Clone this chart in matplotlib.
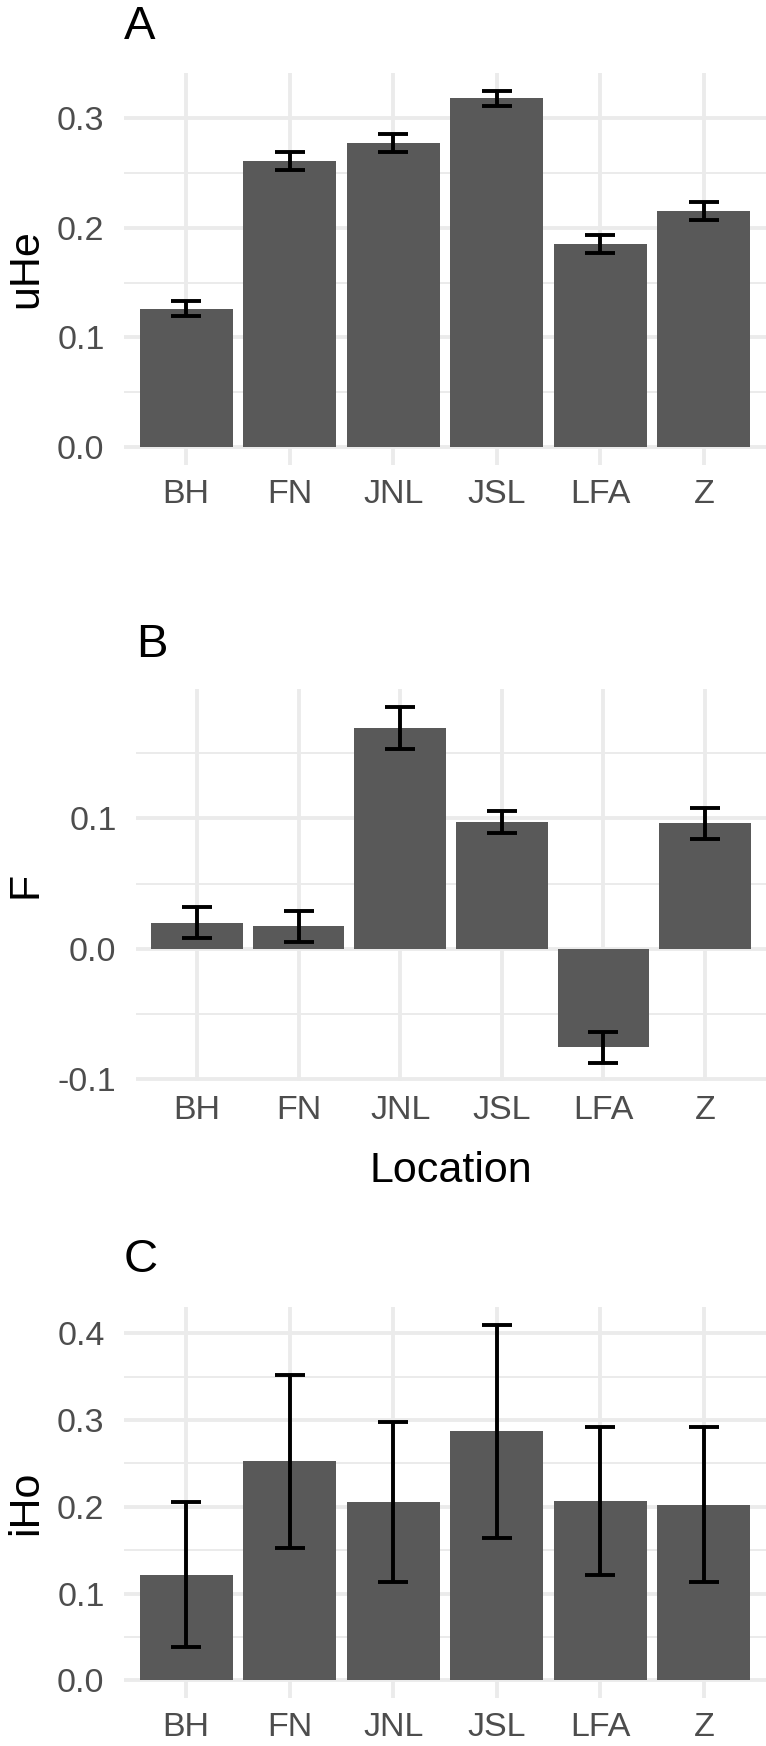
import numpy as np
import matplotlib
matplotlib.use("Agg")
import matplotlib.pyplot as plt
from matplotlib.ticker import MultipleLocator

plt.rcParams['font.family'] = ['Liberation Sans', 'DejaVu Sans']

# %% Data
locations = ['BH', 'FN', 'JNL', 'JSL', 'LFA', 'Z']

uHe = [0.126, 0.261, 0.277, 0.318, 0.185, 0.215]
uHe_se = [0.0068, 0.0083, 0.0083, 0.0067, 0.0080, 0.0083]

F = [0.020, 0.0172, 0.1693, 0.0972, -0.0755, 0.0962]
F_se = [0.0118, 0.0121, 0.0162, 0.0082, 0.0121, 0.0120]

iHo = [0.1219, 0.2526, 0.2058, 0.2870, 0.2070, 0.2023]
iHo_se = [0.084, 0.100, 0.092, 0.123, 0.0855, 0.0895]

W, H = 766, 1746
BAR = '#595959'
GRID = '#EBEBEB'
TICK = '#4D4D4D'

fig = plt.figure(figsize=(W / 100, H / 100), dpi=100)


def panel(left, top, bottom, vals, errs, letter, ylabel, base):
    ax = fig.add_axes([left / W, 1 - bottom / H, (W - left) / W, (bottom - top) / H])
    x = np.arange(len(locations))
    vals = np.array(vals)
    errs = np.array(errs)
    ax.bar(x, vals, width=0.9, color=BAR, zorder=2)
    ax.errorbar(x, vals, yerr=errs, fmt='none', ecolor='black',
                elinewidth=2.8, capsize=11, capthick=2.8, zorder=3)

    # ggplot style limits: 5% expansion, 0.6 for discrete axis
    lo = min(0, (vals - errs).min())
    hi = max(0, (vals + errs).max())
    pad = (hi - lo) * 0.05
    ax.set_ylim(lo - pad, hi + pad)
    ax.set_xlim(-0.6, len(locations) - 0.4)

    ax.set_xticks(x)
    ax.set_xticklabels(locations)
    ax.yaxis.set_major_locator(MultipleLocator(0.1))
    ax.yaxis.set_minor_locator(MultipleLocator(0.05))
    ax.yaxis.set_major_formatter(matplotlib.ticker.FormatStrFormatter('%.1f'))

    ax.grid(which='major', color=GRID, lw=2.8, zorder=0)
    ax.grid(which='minor', axis='y', color=GRID, lw=1.4, zorder=0)
    ax.set_axisbelow(True)
    for s in ax.spines.values():
        s.set_visible(False)
    ax.tick_params(axis='both', which='both', length=0, labelsize=24.5, labelcolor=TICK)
    ax.tick_params(axis='x', pad=10)
    ax.tick_params(axis='y', pad=14)

    fig.text(left / W, 1 - base / H, letter, fontsize=34, ha='left', va='baseline')
    fig.text(6 / W, 1 - (top + bottom) / 2 / H, ylabel, fontsize=31,
             rotation=90, ha='left', va='center')
    return ax


panel(124, 73, 465, uHe, uHe_se, 'A', 'uHe', 39)
panel(136, 689, 1081, F, F_se, 'B', 'F', 657)
panel(124, 1307, 1698, iHo, iHo_se, 'C', 'iHo', 1272)

fig.text(451 / W, 1 - 1182 / H, 'Location', fontsize=31, ha='center', va='baseline')

fig.savefig('out.png', dpi=100)
